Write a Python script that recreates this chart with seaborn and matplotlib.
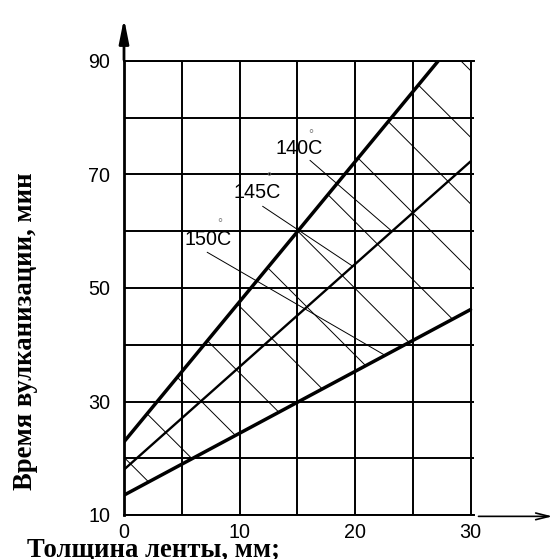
import numpy as np
import matplotlib
matplotlib.use('Agg')
import matplotlib.pyplot as plt
import seaborn as sns
from matplotlib.ticker import FixedLocator, FixedFormatter

# толщина ленты (мм) -> время вулканизации (мин), по температурам
temps = ['140C', '145C', '150C']
line_x = [[0, 27.2], [0, 30], [0, 30]]
line_y = [[22.9, 90], [18.0, 72.3], [13.5, 46.2]]
line_w = [1.25, 0.85, 1.25]

xticks = [0, 5, 10, 15, 20, 25, 30]
xlabels = ['0', '', '10', '', '20', '', '30']
yticks = [10, 20, 30, 40, 50, 60, 70, 80, 90]
ylabels = ['10', '', '30', '', '50', '', '70', '', '90']

# подписи кривых и выноски
label_xy = [(15.2, 74.5), (11.5, 66.9), (7.3, 58.5)]
deg_xy = [(16.2, 77.0), (12.55, 69.4), (8.3, 61.2)]
leader_start = [(16.1, 72.5), (12.0, 64.4), (7.2, 56.3)]
leader_end_x = [23.2, 19.8, 22.6]
leader_curve = [1, 1, 2]

sns.set_theme(style='white')
plt.rcParams['font.family'] = ['Liberation Sans', 'DejaVu Sans']
plt.rcParams['text.color'] = 'black'
plt.rcParams['hatch.linewidth'] = 0.35

fig = plt.figure(figsize=(2.795, 2.795), dpi=200)
ax = fig.add_axes([124/559, 44/559, 350/559, 454/559])

# заштрихованная зона между 140C и 150C
zx = line_x[0] + [line_x[2][-1]] + line_x[2][::-1]
zy = line_y[0] + [line_y[0][-1]] + line_y[2][::-1]
ax.fill(zx, zy, facecolor='none', edgecolor='black', linewidth=0, hatch='\\', zorder=1)

for i in range(3):
    sns.lineplot(x=line_x[i], y=line_y[i], color='black', linewidth=line_w[i], ax=ax, zorder=3)

for i in range(3):
    ax.text(label_xy[i][0], label_xy[i][1], temps[i], fontsize=7.1, color='black',
            ha='center', va='center', zorder=4)
    ax.text(deg_xy[i][0], deg_xy[i][1], '°', fontsize=4.5, color='#777777', ha='center', va='center', zorder=4)
    c = leader_curve[i]
    ex = leader_end_x[i]
    ey = np.interp(ex, line_x[c], line_y[c])
    ax.plot([leader_start[i][0], ex], [leader_start[i][1], ey], color='black', linewidth=0.35, zorder=2)

ax.set_xlim(0, 30.3)
ax.set_ylim(10, 90)
ax.xaxis.set_major_locator(FixedLocator(xticks))
ax.xaxis.set_major_formatter(FixedFormatter(xlabels))
ax.yaxis.set_major_locator(FixedLocator(yticks))
ax.yaxis.set_major_formatter(FixedFormatter(ylabels))
ax.tick_params(axis='both', length=0, labelsize=7.1, colors='black', labelcolor='black')
ax.tick_params(axis='x', pad=3)
ax.tick_params(axis='y', pad=5)
ax.grid(True, color='black', linewidth=0.7)
ax.set_xlabel('')
ax.set_ylabel('')

ax.spines['right'].set_visible(False)
ax.spines['top'].set_color('black')
ax.spines['top'].set_linewidth(0.7)
ax.spines['bottom'].set_color('black')
ax.spines['bottom'].set_linewidth(0.7)
ax.spines['left'].set_color('black')
ax.spines['left'].set_linewidth(1.0)
ax.spines['left'].set_zorder(5)

# стрелки осей
ax.annotate('', xy=(0, 1.106), xytext=(0, 0.99), xycoords='axes fraction',
            arrowprops=dict(arrowstyle='-|>,head_length=0.6,head_width=0.12', color='black', lw=1.0))
ax.annotate('', xy=(1.24, -0.003), xytext=(0.997, -0.003), xycoords='axes fraction',
            arrowprops=dict(arrowstyle='->,head_length=0.4,head_width=0.1', color='black', lw=0.6))

fig.text(26/559, 1 - 331/559, 'Время вулканизации, мин', rotation=90, ha='center', va='center',
         family=['Liberation Serif', 'DejaVu Serif'], fontweight='bold', fontsize=9.6, color='black')
fig.text(153/559, 2.5/559, 'Толщина ленты, мм;', ha='center', va='baseline',
         family=['Liberation Serif', 'DejaVu Serif'], fontweight='bold', fontsize=9.6, color='black')

fig.savefig('out.png', dpi=200, facecolor='white')
